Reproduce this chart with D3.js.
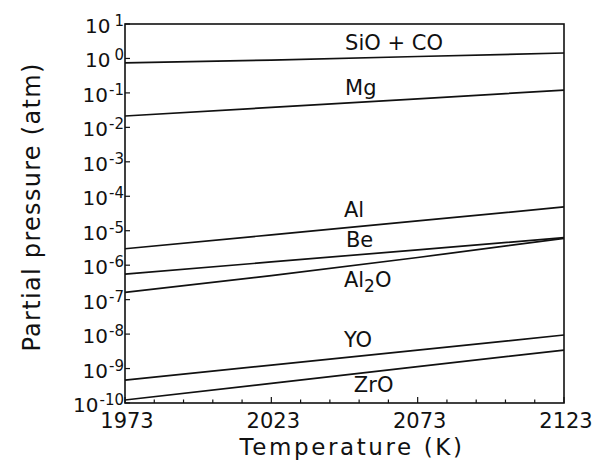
<!DOCTYPE html>
<html>
<head>
<meta charset="utf-8">
<script src="https://cdn.jsdelivr.net/npm/d3@7"></script>
<style>
  html, body { margin: 0; padding: 0; background: #fff; }
  svg { display: block; }
  text { font-family: "DejaVu Sans", sans-serif; fill: #111; }
</style>
</head>
<body>
<svg id="chart" width="594" height="471"></svg>
<script>
// Temperatures (K) at which the partial pressures are tabulated
const temperatures = [1973, 2023, 2073, 2123];

// Partial pressures (atm) of each gaseous species
const sioCo = [0.74, 0.90, 1.14, 1.44];
const mg    = [0.0214, 0.0379, 0.0675, 0.121];
const al    = [3.0e-6, 7.6e-6, 1.93e-5, 4.9e-5];
const be    = [5.5e-7, 1.24e-6, 2.79e-6, 6.3e-6];
const al2o  = [1.63e-7, 5.0e-7, 1.67e-6, 6.0e-6];
const yo    = [4.6e-10, 1.26e-9, 3.44e-9, 9.4e-9];
const zro   = [1.22e-10, 3.7e-10, 1.13e-9, 3.44e-9];

const seriesNames = ["SiO + CO", "Mg", "Al", "Be", "Al2O", "YO", "ZrO"];
const seriesValues = [sioCo, mg, al, be, al2o, yo, zro];

// Axis ticks
const xTickLabels = [1973, 2023, 2073, 2123];
const xMinorTicks = d3.range(1973, 2124, 10);
const yTickExponents = [1, 0, -1, -2, -3, -4, -5, -6, -7, -8, -9, -10];

const svg = d3.select("#chart");
const plotLeft = 125, plotRight = 564, plotTop = 24, plotBottom = 403;

const x = d3.scaleLinear().domain([1973, 2123]).range([plotLeft, plotRight]);
const y = d3.scaleLog().domain([1e-10, 10]).range([plotBottom, plotTop]);

// Frame
svg.append("rect")
  .attr("x", plotLeft).attr("y", plotTop)
  .attr("width", plotRight - plotLeft).attr("height", plotBottom - plotTop)
  .attr("fill", "none").attr("stroke", "#111").attr("stroke-width", 1.6);

// X ticks (pointing inward)
svg.append("g").selectAll("line")
  .data(xMinorTicks)
  .join("line")
  .attr("x1", d => x(d)).attr("x2", d => x(d))
  .attr("y1", plotBottom)
  .attr("y2", d => xTickLabels.includes(d) ? plotBottom - 6 : plotBottom - 3.5)
  .attr("stroke", "#111").attr("stroke-width", 1.2);

svg.append("g").selectAll("text")
  .data(xTickLabels)
  .join("text")
  .attr("x", d => x(d) + 2)
  .attr("y", 428)
  .attr("text-anchor", "middle")
  .attr("font-size", 21)
  .text(d => d);

// Y ticks (pointing inward) with power-of-ten labels
svg.append("g").selectAll("line")
  .data(yTickExponents)
  .join("line")
  .attr("x1", plotLeft).attr("x2", plotLeft + 5)
  .attr("y1", d => y(Math.pow(10, d))).attr("y2", d => y(Math.pow(10, d)))
  .attr("stroke", "#111").attr("stroke-width", 1.2);

const yLabels = svg.append("g").selectAll("text")
  .data(yTickExponents)
  .join("text")
  .attr("x", plotLeft - 1)
  .attr("y", d => y(Math.pow(10, d)) + 9)
  .attr("text-anchor", "end")
  .attr("font-size", 20);
yLabels.append("tspan").text("10");
yLabels.append("tspan")
  .attr("font-size", 15)
  .attr("dy", -7)
  .attr("dx", d => d >= 0 ? 4 : 1)
  .text(d => d < 0 ? "-" + (-d) : String(d));

// Series lines
const line = d3.line()
  .x((d, i) => x(temperatures[i]))
  .y(d => y(d));

svg.append("g").selectAll("path")
  .data(seriesValues)
  .join("path")
  .attr("d", d => line(d))
  .attr("fill", "none")
  .attr("stroke", "#111")
  .attr("stroke-width", 1.7);

// Series labels, anchored in data coordinates (temperature, pressure)
const labelAnchors = [
  { name: "SiO + CO", t: 2048.2, p: 1.76 },
  { name: "Mg",       t: 2048.2, p: 0.0869 },
  { name: "Al",       t: 2047.8, p: 2.5e-5 },
  { name: "Be",       t: 2048.5, p: 3.37e-6 },
  { name: "Al2O",     t: 2047.8, p: 2.32e-7 },
  { name: "YO",       t: 2047.8, p: 4.2e-9 },
  { name: "ZrO",      t: 2051.2, p: 2.08e-10 }
];

const labels = svg.append("g").selectAll("text")
  .data(labelAnchors)
  .join("text")
  .attr("x", d => x(d.t))
  .attr("y", d => y(d.p))
  .attr("font-size", 21);

labels.each(function(d) {
  const t = d3.select(this);
  if (d.name === "Al2O") {
    t.append("tspan").text("Al");
    t.append("tspan").attr("font-size", 17).attr("dy", 5).text("2");
    t.append("tspan").attr("dy", -5).text("O");
  } else {
    t.text(d.name);
  }
});

// Axis titles
svg.append("text")
  .attr("x", 352).attr("y", 455)
  .attr("text-anchor", "middle")
  .attr("font-size", 23)
  .attr("letter-spacing", 2.6)
  .text("Temperature (K)");

svg.append("text")
  .attr("transform", "translate(40,207) rotate(-90)")
  .attr("text-anchor", "middle")
  .attr("font-size", 24)
  .attr("letter-spacing", 1.3)
  .text("Partial pressure (atm)");
</script>
</body>
</html>
